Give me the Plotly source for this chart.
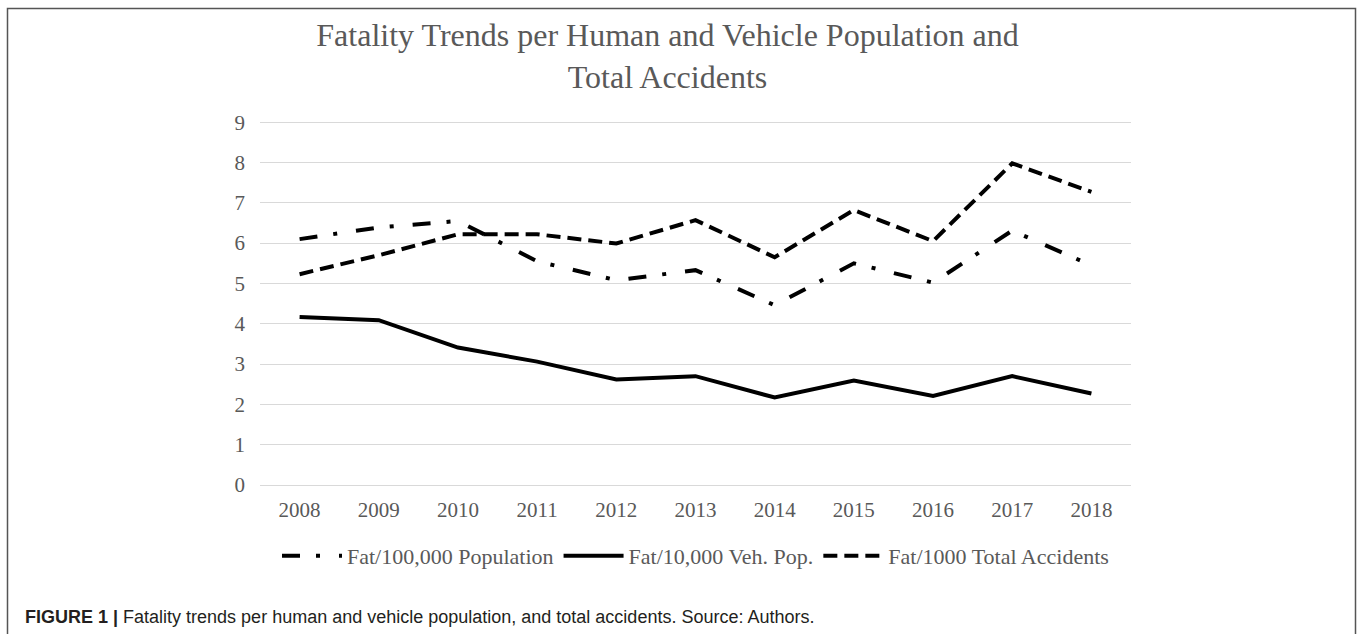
import plotly.graph_objects as go

years = ["2008", "2009", "2010", "2011", "2012", "2013", "2014", "2015", "2016", "2017", "2018"]
fat_per_100k_pop = [6.10, 6.39, 6.55, 5.55, 5.08, 5.33, 4.46, 5.50, 5.02, 6.31, 5.45]
fat_per_10k_veh = [4.17, 4.09, 3.41, 3.06, 2.62, 2.70, 2.17, 2.59, 2.21, 2.70, 2.27]
fat_per_1000_acc = [5.23, 5.70, 6.22, 6.22, 5.99, 6.57, 5.65, 6.82, 6.05, 7.98, 7.27]
series_names = ["Fat/100,000 Population", "Fat/10,000 Veh. Pop.", "Fat/1000 Total Accidents"]
y_ticks = list(range(0, 10))

W, H = 1357, 634
L, R, T, B = 260, 226, 121, 149
pw, ph = W - L - R, H - T - B

def px_x(x):
    return (x - L) / pw

def px_y(y):
    return (H - B - y) / ph

fig = go.Figure()
styles = [
    dict(dash="18px,16px,4px,19px"),
    dict(dash="solid"),
    dict(dash="14px,7px"),
]
for name, vals, st in zip(series_names, [fat_per_100k_pop, fat_per_10k_veh, fat_per_1000_acc], styles):
    fig.add_trace(go.Scatter(
        x=years, y=vals, name=name, mode="lines",
        line=dict(color="black", width=4, dash=st["dash"]),
    ))

serif = "Liberation Serif"
fig.update_layout(
    width=W, height=H,
    margin=dict(l=L, r=R, t=T, b=B),
    paper_bgcolor="white", plot_bgcolor="white",
    title=dict(
        text="Fatality Trends per Human and Vehicle Population and<br>Total Accidents",
        font=dict(family=serif, size=32, color="#595959"),
        x=667.5 / W, xanchor="center", y=1 - 46 / H, yanchor="middle",
    ),
    xaxis=dict(
        type="category", range=[-0.5, len(years) - 0.5],
        showgrid=False, showline=False, zeroline=False,
        tickfont=dict(family=serif, size=21, color="#595959"),
        ticklabelstandoff=10, ticks="",
    ),
    yaxis=dict(
        range=[0, 9.03], tickvals=y_ticks, showgrid=True, gridcolor="#d9d9d9", gridwidth=1.3,
        zeroline=True, zerolinecolor="#d9d9d9", zerolinewidth=1.3, showline=False,
        tickfont=dict(family=serif, size=21, color="#595959"),
        ticklabelstandoff=14, ticks="",
    ),
    legend=dict(
        orientation="h", x=0.5, xanchor="center", y=px_y(556), yanchor="middle",
        font=dict(family=serif, size=22, color="#595959"),
        itemwidth=60, traceorder="normal", bgcolor="rgba(0,0,0,0)",
    ),
    showlegend=True,
    annotations=[dict(
        text="<b>FIGURE 1 |</b> Fatality trends per human and vehicle population, and total accidents. Source: Authors.",
        xref="paper", yref="paper", x=px_x(23), y=px_y(617), xanchor="left", yanchor="middle",
        showarrow=False, font=dict(family="Liberation Sans", size=18, color="#231f20"),
    )],
    shapes=[dict(
        type="rect", xref="paper", yref="paper",
        x0=px_x(7.5), x1=px_x(1355.5), y0=px_y(660), y1=px_y(8.5),
        line=dict(color="#555555", width=1.5), fillcolor="rgba(0,0,0,0)", layer="below",
    )],
)

fig.write_html("out.html")
